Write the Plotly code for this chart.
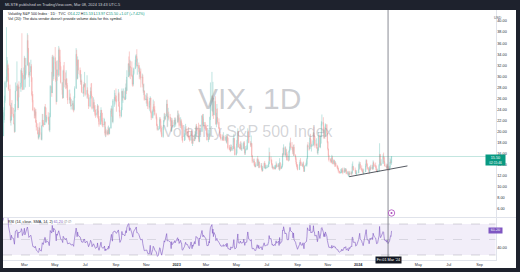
import pandas as pd
import numpy as np
import plotly.graph_objects as go

# ---------------- data ----------------
holidays = ['2022-01-17', '2022-02-21', '2022-04-15', '2022-05-30', '2022-06-20', '2022-07-04',
            '2022-09-05', '2022-11-24', '2022-12-26', '2023-01-02', '2023-01-16', '2023-02-20',
            '2023-04-07', '2023-05-29', '2023-06-19', '2023-07-04', '2023-09-04', '2023-11-23',
            '2023-12-25', '2024-01-01', '2024-01-15', '2024-02-19']
first_date, last_date = '2022-01-03', '2024-03-08'
first_open = 17.2

close = [
 16.6, 16.9, 19.7, 19.6, 18.8, 19.4, 18.4, 17.6, 20.3, 19.2, 22.8, 23.9, 25.6, 28.9, 29.9, 31.2, 32.0, 30.5, 27.7, 24.8,
 22.0, 22.1, 24.4, 23.2, 22.9, 21.4, 20.0, 23.9, 27.4, 28.3, 25.7, 24.3, 28.1, 27.8, 28.8, 31.0, 30.3, 27.6, 30.2,
 33.3, 29.6, 30.5, 32.0, 36.5, 35.1, 32.5, 30.2, 30.8, 31.8, 29.8, 26.7, 25.7, 23.9, 23.5, 22.9, 23.6, 21.7, 20.8, 19.6, 18.9, 19.3, 20.6,
 19.6, 18.6, 21.0, 22.1, 21.6, 21.2, 24.4, 24.3, 21.8, 22.7, 22.2, 21.4, 20.3, 22.7, 28.2, 27.0, 33.5, 31.6, 30.0, 33.4,
 32.3, 29.3, 25.4, 31.2, 30.2, 34.8, 33.0, 32.6, 31.8, 28.9, 27.5, 26.1, 31.0, 29.4, 29.4, 28.5, 29.5, 28.4, 27.5, 25.7, 26.2,
 25.7, 24.7, 24.8, 25.1, 24.0, 24.0, 26.1, 27.8, 34.0, 32.7, 29.6, 33.0, 31.1, 30.2, 29.0, 29.1, 27.2, 27.0, 28.4, 28.2, 28.7,
 26.7, 27.5, 26.7, 26.1, 24.6, 26.2, 27.3, 26.8, 26.4, 24.2, 25.3, 24.5, 23.9, 23.1, 23.0, 23.4, 24.7, 22.5, 22.3, 21.3,
 22.8, 23.9, 22.0, 21.4, 21.2, 21.3, 21.8, 19.7, 20.2, 19.5, 20.0, 19.7, 20.5, 19.6, 20.6, 23.8, 24.1, 22.8, 21.8, 25.6, 26.2, 26.2, 25.9,
 25.6, 25.5, 26.9, 24.6, 23.6, 22.8, 23.9, 27.3, 26.2, 26.3, 26.3, 25.8, 27.2, 28.0, 27.4, 29.9, 32.3, 32.2, 30.2, 31.8, 31.6,
 30.1, 28.6, 28.6, 30.5, 31.4, 32.5, 33.6, 33.6, 31.9, 32.0, 31.4, 30.5, 30.8, 30.0, 29.7, 29.9, 28.5, 27.3, 27.4, 25.8, 25.9,
 25.8, 25.9, 25.3, 24.6, 24.4, 25.5, 26.1, 23.5, 22.5, 23.7, 24.5, 24.1, 23.9, 23.1, 22.4, 21.1, 20.4, 20.5, 22.2, 21.9, 20.6,
 19.8, 19.1, 20.8, 22.0, 22.7, 22.3, 22.8, 25.0, 22.6, 22.8, 22.8, 22.6, 22.4, 22.0, 20.1, 22.0, 20.9, 21.7, 22.1, 21.4, 21.7,
 22.9, 22.0, 22.5, 21.1, 22.0, 21.1, 21.1, 18.8, 18.4, 19.4, 20.3, 20.5, 19.9, 19.8, 19.2, 19.1, 18.7, 18.5, 19.9, 19.4,
 17.9, 18.7, 18.3, 19.4, 18.7, 19.6, 20.7, 20.5, 20.3, 18.9, 18.2, 20.2, 20.0, 22.9, 22.3, 21.1, 21.7, 21.0, 20.7,
 20.6, 19.6, 18.5, 18.6, 19.6, 19.1, 22.6, 24.8, 26.5, 23.7, 26.1, 23.0, 25.5, 24.1, 21.4, 22.3, 22.6, 21.7, 20.6, 20.0, 19.1, 19.0, 18.7,
 18.6, 19.0, 19.1, 18.4, 19.0, 18.1, 19.1, 18.9, 17.1, 17.0, 16.8, 16.5, 17.2, 16.8, 16.9, 18.8, 18.8, 17.0, 15.8,
 16.1, 17.8, 18.3, 20.1, 17.2, 17.0, 17.7, 16.9, 16.9, 17.0, 17.1, 18.0, 16.9, 16.1, 16.8, 16.9, 18.5, 20.0, 19.1, 18.0, 17.5, 17.9,
 15.7, 14.6, 14.7, 14.0, 13.9, 13.7, 13.8, 15.0, 14.6, 13.9, 14.5, 13.5, 13.9, 13.2, 12.9, 13.4, 14.3, 13.7, 13.4, 13.5, 13.6,
 13.6, 14.2, 15.4, 14.8, 14.8, 14.1, 13.5, 13.6, 13.3, 13.5, 13.3, 13.8, 14.0, 13.6, 13.9, 13.9, 13.2, 14.4, 13.3, 13.6,
 13.9, 16.0, 15.9, 17.1, 15.8, 16.0, 16.0, 15.9, 14.8, 14.8, 16.5, 16.8, 17.9, 17.3, 17.1, 17.0, 16.0, 17.2, 15.7, 15.1, 14.5, 13.9, 13.6,
 13.1, 14.0, 14.5, 14.4, 13.8, 13.8, 14.2, 13.5, 12.8, 13.8, 14.0, 14.1, 15.1, 17.5, 17.2, 16.9, 18.9, 18.2, 17.3, 17.5,
 17.6, 19.8, 18.6, 18.5, 17.5, 17.7, 17.0, 16.1, 16.7, 19.3, 17.2, 17.9, 19.2, 21.4, 21.7, 20.4, 19.0, 20.2, 19.2, 21.3, 19.8, 18.1,
 16.9, 15.7, 14.9, 14.9, 14.8, 14.5, 15.3, 14.2, 14.8, 14.2, 14.2, 14.3, 13.8, 13.4, 13.4, 12.9, 12.5, 12.7, 12.7, 13.0, 12.9,
 12.6, 13.1, 12.9, 13.0, 13.1, 12.4, 12.6, 12.1, 12.2, 12.5, 12.3, 12.6, 12.5, 13.7, 13.7, 13.0, 13.0, 12.4, 12.5, 12.5,
 13.2, 14.0, 14.1, 13.4, 13.1, 12.8, 12.7, 12.4, 12.7, 13.8, 14.8, 14.1, 13.3, 13.2, 12.6, 13.1, 13.5, 13.3, 13.6, 13.3, 14.4,
 13.9, 13.9, 13.7, 13.1, 12.8, 12.8, 12.9, 13.9, 15.9, 14.4, 14.0, 14.2, 15.4, 15.3, 14.5, 13.8, 13.7, 13.4, 13.8, 13.4,
 13.1, 13.5, 14.5, 14.5, 14.4, 15.5,
]
high = [
 18.2, 17.8, 20.2, 21.1, 20.6, 23.0, 20.1, 18.6, 20.9, 21.5, 23.5, 24.4, 26.5, 29.2, 38.9, 33.5, 32.9, 32.3, 31.5, 28.5,
 24.6, 22.9, 25.2, 25.7, 24.3, 23.2, 21.6, 25.0, 28.9, 32.7, 28.7, 26.7, 28.5, 29.1, 31.2, 31.5, 37.8, 30.6, 31.6,
 33.7, 33.4, 31.1, 33.3, 37.8, 37.5, 34.1, 31.8, 32.5, 33.0, 32.2, 29.7, 27.3, 26.8, 24.4, 24.3, 24.0, 24.1, 22.1, 21.5, 20.3, 19.9, 20.9,
 21.7, 19.9, 21.2, 23.2, 23.2, 22.1, 24.6, 25.0, 24.4, 23.0, 23.5, 22.6, 22.1, 23.4, 28.4, 30.8, 33.8, 33.9, 32.5, 33.7,
 35.3, 32.6, 29.8, 32.8, 32.9, 35.5, 35.2, 33.6, 34.8, 31.6, 28.8, 27.4, 31.2, 32.0, 32.6, 30.7, 31.1, 29.7, 28.8, 26.7, 27.6,
 26.9, 26.1, 25.9, 25.6, 25.6, 24.8, 26.4, 28.2, 35.1, 34.8, 32.4, 33.6, 32.5, 31.6, 31.1, 30.4, 29.4, 28.1, 28.6, 29.0, 30.8,
 28.6, 30.2, 28.0, 26.9, 25.8, 26.6, 28.0, 28.7, 28.8, 26.2, 26.2, 25.8, 24.7, 24.8, 24.0, 24.1, 25.0, 24.6, 23.8, 22.8,
 23.4, 24.4, 23.9, 22.5, 23.4, 22.5, 22.3, 21.2, 20.9, 20.5, 20.3, 20.9, 21.1, 20.6, 20.8, 24.2, 24.7, 24.2, 22.9, 25.9, 27.5, 27.0, 26.6,
 27.8, 26.5, 27.7, 27.2, 25.4, 23.9, 24.4, 27.8, 27.4, 27.3, 27.8, 27.4, 27.9, 28.7, 29.4, 31.1, 32.3, 33.6, 34.5, 33.0, 32.8,
 32.7, 29.5, 30.3, 31.0, 31.6, 33.0, 33.9, 34.0, 34.9, 33.2, 32.5, 32.0, 31.6, 31.0, 31.4, 30.5, 30.3, 28.6, 28.7, 27.4, 26.7,
 26.5, 27.0, 26.9, 26.3, 25.5, 26.1, 26.4, 24.9, 23.8, 24.0, 25.8, 25.0, 25.5, 24.6, 23.4, 22.7, 21.4, 21.0, 22.6, 22.6, 22.3,
 20.7, 21.1, 20.9, 22.1, 23.3, 23.4, 23.2, 25.7, 25.8, 23.3, 24.3, 23.6, 23.2, 22.6, 21.9, 22.5, 22.4, 22.1, 22.5, 22.6, 22.4,
 23.8, 23.8, 23.3, 23.1, 22.6, 22.3, 21.8, 21.5, 19.2, 19.7, 20.9, 21.4, 21.0, 20.1, 20.3, 20.8, 19.4, 19.1, 20.0, 20.3,
 20.1, 19.1, 19.4, 19.5, 20.1, 20.0, 21.3, 21.4, 20.9, 21.6, 19.7, 20.7, 21.3, 22.9, 23.2, 22.6, 23.2, 21.7, 21.2,
 21.3, 21.0, 19.8, 19.0, 20.3, 19.7, 22.7, 28.9, 30.8, 26.5, 29.0, 26.0, 26.1, 26.4, 23.5, 23.4, 25.0, 24.2, 22.4, 20.8, 19.9, 19.6, 19.5,
 19.5, 19.3, 19.9, 19.3, 19.4, 19.2, 19.6, 19.4, 17.8, 17.6, 17.5, 17.2, 17.7, 17.6, 17.4, 18.9, 19.6, 18.7, 17.3,
 16.8, 18.5, 19.4, 20.6, 19.9, 17.8, 18.1, 18.3, 17.5, 18.0, 17.8, 18.2, 18.3, 17.1, 17.4, 17.5, 18.6, 20.6, 20.2, 19.2, 18.3, 19.3,
 17.9, 15.7, 15.1, 15.1, 14.3, 14.5, 14.2, 15.2, 15.6, 15.1, 14.9, 14.6, 14.3, 14.3, 13.7, 13.8, 14.4, 14.7, 14.3, 14.0, 14.0,
 14.0, 14.6, 17.1, 16.3, 15.5, 15.0, 14.3, 13.9, 13.7, 13.9, 13.6, 14.0, 14.6, 14.3, 14.2, 14.3, 14.1, 15.2, 14.0, 13.8,
 14.2, 16.1, 17.1, 17.7, 17.3, 17.3, 16.7, 16.9, 16.3, 15.6, 16.6, 17.3, 18.2, 18.9, 18.1, 17.2, 17.1, 17.6, 17.7, 15.9, 15.4, 14.4, 14.1,
 14.1, 14.2, 14.9, 15.2, 14.6, 14.2, 14.5, 14.6, 13.6, 13.9, 14.4, 14.8, 15.3, 17.7, 18.1, 17.9, 19.1, 19.6, 18.6, 17.8,
 18.4, 19.9, 20.9, 19.4, 19.2, 18.8, 17.9, 17.2, 17.1, 19.9, 19.5, 18.9, 19.4, 21.9, 23.1, 22.6, 20.6, 20.4, 20.9, 21.5, 21.0, 19.7,
 18.3, 16.8, 15.8, 15.2, 15.1, 14.9, 15.8, 15.6, 15.0, 14.7, 14.5, 14.7, 14.4, 14.0, 13.8, 13.5, 12.9, 13.2, 13.3, 13.4, 13.3,
 13.5, 13.5, 13.4, 13.4, 13.4, 13.3, 12.9, 12.9, 12.6, 12.8, 12.9, 12.8, 12.8, 14.2, 14.6, 13.8, 13.5, 13.1, 12.8, 13.0,
 14.2, 14.6, 14.4, 14.5, 13.9, 13.3, 13.3, 13.1, 13.3, 14.2, 15.0, 14.9, 14.3, 13.6, 13.4, 13.7, 13.8, 14.0, 14.0, 13.9, 14.8,
 14.6, 14.2, 14.4, 13.9, 13.3, 13.1, 13.3, 14.1, 17.9, 15.9, 14.6, 15.0, 15.9, 16.2, 15.5, 14.6, 14.2, 13.9, 14.2, 14.1,
 13.7, 13.8, 15.3, 15.0, 14.8, 15.5,
]
low = [
 16.3, 16.3, 16.8, 19.0, 18.5, 18.5, 18.2, 17.1, 17.6, 18.9, 20.8, 21.6, 22.1, 25.2, 28.0, 29.0, 29.2, 29.0, 27.4, 24.6,
 21.6, 21.1, 22.7, 22.7, 22.5, 21.3, 19.8, 19.9, 23.6, 27.3, 25.5, 23.9, 24.7, 26.2, 27.2, 28.1, 29.7, 27.5, 28.1,
 29.4, 29.4, 28.0, 30.2, 32.0, 34.3, 31.8, 29.8, 28.1, 30.1, 29.0, 26.4, 25.3, 23.7, 22.4, 22.4, 22.5, 21.6, 20.2, 19.5, 18.6, 18.6, 19.0,
 19.4, 18.5, 18.4, 21.0, 21.0, 20.8, 21.3, 22.6, 21.7, 21.5, 21.9, 21.2, 20.1, 19.9, 22.6, 26.3, 27.0, 30.5, 29.2, 29.5,
 31.2, 29.0, 24.9, 25.7, 29.2, 29.9, 31.2, 30.1, 31.1, 28.7, 26.7, 25.9, 26.5, 28.9, 28.0, 27.7, 27.9, 27.8, 26.1, 25.0, 25.1,
 25.0, 24.5, 24.0, 24.0, 23.8, 23.5, 23.8, 26.1, 29.2, 31.9, 29.4, 30.0, 30.4, 29.8, 28.5, 28.5, 27.0, 26.8, 26.3, 27.9, 28.1,
 26.4, 26.0, 26.3, 25.9, 24.1, 24.4, 26.0, 26.4, 26.0, 24.0, 23.6, 24.2, 23.5, 22.8, 22.5, 22.7, 23.3, 22.4, 21.8, 20.9,
 21.3, 22.6, 21.8, 21.1, 20.8, 20.8, 21.2, 19.3, 19.0, 19.1, 19.5, 19.3, 19.6, 19.4, 19.6, 21.8, 23.2, 22.7, 21.7, 21.5, 24.5, 24.9, 25.5,
 25.3, 23.6, 25.5, 24.5, 23.5, 22.4, 22.6, 24.4, 25.6, 25.2, 26.0, 25.7, 26.2, 25.9, 26.8, 28.1, 29.9, 30.8, 29.8, 30.1, 29.5,
 29.9, 28.3, 28.1, 28.3, 30.3, 31.3, 32.1, 32.6, 31.6, 30.3, 30.8, 29.5, 29.8, 29.4, 28.0, 28.7, 28.0, 27.0, 26.6, 25.6, 25.7,
 25.1, 24.6, 25.0, 24.1, 24.0, 23.7, 24.8, 23.3, 22.1, 22.4, 22.9, 23.6, 23.6, 22.9, 22.2, 21.0, 20.2, 20.2, 20.4, 21.6, 20.0,
 19.5, 19.0, 18.9, 20.3, 21.7, 22.0, 22.1, 23.1, 20.8, 20.9, 22.0, 22.2, 21.8, 21.0, 20.0, 20.0, 20.7, 20.7, 21.2, 21.2, 20.9,
 21.8, 21.5, 21.7, 20.7, 20.6, 20.7, 20.4, 18.4, 18.0, 18.3, 18.5, 19.9, 19.5, 19.2, 18.9, 18.9, 18.5, 18.2, 18.3, 19.0,
 17.8, 17.4, 17.8, 18.7, 18.4, 18.7, 19.0, 20.1, 19.5, 18.6, 18.1, 18.1, 19.4, 20.3, 21.3, 20.8, 21.0, 20.5, 20.2,
 20.2, 19.3, 18.4, 18.1, 18.5, 18.6, 19.0, 22.1, 23.8, 22.8, 23.5, 22.3, 23.0, 22.9, 21.2, 20.8, 21.6, 21.3, 20.5, 19.7, 19.0, 18.8, 18.4,
 18.3, 18.5, 18.6, 18.3, 18.5, 18.0, 17.8, 18.3, 16.8, 16.7, 16.6, 16.3, 16.5, 16.6, 16.5, 17.0, 18.1, 16.8, 15.7,
 15.7, 16.0, 17.1, 18.3, 17.1, 16.8, 16.9, 16.7, 16.6, 16.5, 16.8, 16.9, 16.8, 15.8, 15.8, 16.6, 16.7, 18.5, 18.9, 17.9, 17.2, 17.2,
 15.4, 14.3, 14.3, 13.8, 13.6, 13.5, 13.6, 13.8, 14.4, 13.7, 13.4, 13.4, 13.5, 13.0, 12.7, 12.9, 13.5, 13.5, 13.3, 13.2, 13.3,
 13.4, 13.8, 14.1, 14.7, 14.4, 13.9, 13.4, 13.3, 13.1, 13.2, 13.1, 13.3, 13.5, 13.5, 13.6, 13.7, 13.1, 12.9, 13.1, 13.3,
 13.5, 13.9, 15.5, 15.7, 15.6, 15.7, 15.3, 14.9, 14.8, 14.6, 14.9, 16.2, 16.6, 17.0, 16.7, 16.4, 15.9, 15.6, 15.6, 14.9, 14.1, 13.7, 13.3,
 13.0, 13.1, 13.9, 14.2, 13.8, 13.7, 13.6, 13.3, 12.7, 12.8, 13.7, 13.9, 13.7, 15.3, 16.6, 16.6, 17.1, 17.8, 17.2, 16.4,
 17.3, 17.5, 18.5, 17.8, 17.1, 17.4, 16.9, 16.1, 15.8, 16.5, 17.1, 17.0, 17.8, 19.0, 21.1, 20.1, 18.7, 18.8, 18.7, 19.1, 19.5, 17.9,
 16.6, 15.5, 14.6, 14.4, 14.6, 14.3, 14.4, 14.1, 14.1, 13.9, 13.6, 13.9, 13.6, 13.3, 13.1, 12.6, 12.4, 12.4, 12.5, 12.6, 12.6,
 12.3, 12.6, 12.7, 12.6, 12.7, 12.3, 12.2, 12.0, 11.8, 11.8, 12.1, 12.2, 12.1, 12.3, 13.3, 13.0, 12.6, 12.3, 12.2, 12.1,
 12.5, 13.2, 13.5, 13.1, 12.9, 12.7, 12.5, 12.4, 12.3, 13.1, 13.6, 13.9, 13.1, 12.8, 12.3, 12.6, 13.0, 13.0, 13.2, 13.1, 13.1,
 13.6, 13.6, 13.4, 13.0, 12.7, 12.7, 12.6, 12.8, 13.9, 14.3, 13.8, 13.8, 14.3, 15.0, 14.5, 13.7, 13.6, 13.2, 13.4, 13.3,
 12.9, 13.0, 13.4, 14.2, 14.3, 14.0,
]

# drawn trend line (user drawing) endpoints
trend_dates = ['2023-12-14', '2024-04-09']
trend_values = [11.85, 13.8]

last_price = 15.50
rsi_last_label = 61.20
crosshair_date = '2024-03-01'
crosshair_label = "Fri 01 Mar '24"

month_ticks = ['2022-03-01', '2022-05-01', '2022-07-01', '2022-09-01', '2022-11-01', '2023-01-01',
               '2023-03-01', '2023-05-01', '2023-07-01', '2023-09-01', '2023-11-01', '2024-01-01',
               '2024-05-01', '2024-07-01', '2024-09-01']
month_text = ['Mar', 'May', 'Jul', 'Sep', 'Nov', '<b>2023</b>', 'Mar', 'May', 'Jul', 'Sep', 'Nov', '<b>2024</b>',
              'May', 'Jul', 'Sep']
price_ticks = list(range(6, 41, 2))
rsi_ticks = [40]
x_view = ['2022-01-17', '2024-10-03']
price_view = [4.56, 42.0]
rsi_view = [23.55, 77.74]

# ---------------- derived ----------------
dates = pd.bdate_range(first_date, last_date)
dates = dates[~dates.isin(pd.to_datetime(holidays))]
if not (len(dates) == len(close) == len(high) == len(low)):
    raise SystemExit(f"length mismatch {len(dates)} {len(close)} {len(high)} {len(low)}")
opens = [first_open] + close[:-1]
high = [max(h, o, c) for h, o, c in zip(high, opens, close)]
low = [min(l, o, c) for l, o, c in zip(low, opens, close)]

s = pd.Series(close, dtype=float)
d = s.diff()
gain = d.clip(lower=0).ewm(alpha=1 / 14, adjust=False).mean()
loss = (-d.clip(upper=0)).ewm(alpha=1 / 14, adjust=False).mean()
rsi = 100 - 100 / (1 + gain / loss)

W, H = 520, 272
def px(x):
    return x / W
def py(y):
    return 1 - y / H

TXT = '#131722'
FONT = 'Liberation Sans'
UP, DN = '#26a69a', '#ef5350'

fig = go.Figure()
fig.add_trace(go.Candlestick(
    x=dates, open=opens, high=high, low=low, close=close,
    increasing=dict(line=dict(color=UP, width=0.6), fillcolor=UP),
    decreasing=dict(line=dict(color=DN, width=0.6), fillcolor=DN),
    opacity=0.48, xaxis='x', yaxis='y', hoverinfo='skip', showlegend=False))
fig.add_trace(go.Scatter(x=trend_dates, y=trend_values, mode='lines',
                         line=dict(color='#2a2e39', width=0.8), xaxis='x', yaxis='y',
                         hoverinfo='skip', showlegend=False))
fig.add_trace(go.Scatter(x=dates, y=rsi, mode='lines', line=dict(color='#7e57c2', width=0.7),
                         opacity=0.85, xaxis='x2', yaxis='y2', hoverinfo='skip', showlegend=False))

shapes = [
    # white chart panel
    dict(type='rect', xref='paper', yref='paper', x0=px(3), x1=px(516), y0=py(268), y1=py(10),
         fillcolor='white', line=dict(width=0), layer='below'),
    # rsi band
    dict(type='rect', xref='x2 domain', yref='y2', x0=0, x1=1, y0=30, y1=70,
         fillcolor='rgba(126,87,194,0.10)', line=dict(width=0), layer='below'),
    dict(type='line', xref='x2 domain', yref='y2', x0=0, x1=1, y0=70, y1=70,
         line=dict(color='rgba(120,123,134,0.5)', width=0.6, dash='dash')),
    dict(type='line', xref='x2 domain', yref='y2', x0=0, x1=1, y0=50, y1=50,
         line=dict(color='rgba(120,123,134,0.35)', width=0.6, dash='dash')),
    dict(type='line', xref='x2 domain', yref='y2', x0=0, x1=1, y0=30, y1=30,
         line=dict(color='rgba(120,123,134,0.5)', width=0.6, dash='dash')),
    # pane separator
    dict(type='line', xref='paper', yref='paper', x0=px(3), x1=px(516), y0=py(217.5), y1=py(217.5),
         line=dict(color='#e0e3eb', width=1)),
    # last price line
    dict(type='line', xref='x domain', yref='y', x0=0, x1=1, y0=last_price, y1=last_price,
         line=dict(color='rgba(8,153,129,0.35)', width=0.7)),
    # crosshair
    dict(type='line', xref='x', yref='paper', x0=crosshair_date, x1=crosshair_date,
         y0=py(260), y1=py(10), line=dict(color='#6a6d78', width=0.8)),
    # event marker
    dict(type='circle', xref='x', yref='paper', xsizemode='pixel', ysizemode='pixel',
         xanchor=dates[-1], yanchor=py(213), x0=-3.2, x1=3.2, y0=-3.2, y1=3.2,
         fillcolor='white', line=dict(color='#ab47bc', width=0.8)),
    dict(type='circle', xref='x', yref='paper', xsizemode='pixel', ysizemode='pixel',
         xanchor=dates[-1], yanchor=py(213), x0=-1, x1=1, y0=-1, y1=1,
         fillcolor='#ab47bc', line=dict(width=0)),
]

G = '#089981'
legend1 = (f"Volatility S&P 500 Index · 1D · TVC  O<span style='color:{G}'>14.22</span> "
           f"H<span style='color:{G}'>15.53</span> L<span style='color:{G}'>13.97</span> "
           f"C<span style='color:{G}'>15.50</span> <span style='color:{G}'>+1.07 (+7.42%)</span>")
annotations = [
    dict(text='MLSTE published on TradingView.com, Mar 08, 2024 13:43 UTC-5', x=px(3), y=py(4.8),
         xref='paper', yref='paper', xanchor='left', yanchor='middle', showarrow=False,
         font=dict(family=FONT, size=3.9, color='#d1d4dc')),
    dict(text=legend1, x=px(6), y=py(14), xref='paper', yref='paper', xanchor='left', yanchor='middle',
         showarrow=False, font=dict(family=FONT, size=3.7, color=TXT)),
    dict(text="Vol (20): The data vendor doesn't provide volume data for this symbol.", x=px(6), y=py(19.5),
         xref='paper', yref='paper', xanchor='left', yanchor='middle', showarrow=False,
         font=dict(family=FONT, size=3.7, color=TXT)),
    dict(text='VIX, 1D', x=px(249), y=py(98), xref='paper', yref='paper', showarrow=False,
         font=dict(family=FONT, size=30, color='rgba(120,123,134,0.38)')),
    dict(text='Volatility S&P 500 Index', x=px(248), y=py(131), xref='paper', yref='paper', showarrow=False,
         font=dict(family=FONT, size=16, color='rgba(120,123,134,0.32)')),
    dict(text="RSI (14, close, SMA, 14, 2) <span style='color:#7e57c2'>61.20</span> "
              "<span style='color:#787b86'>∅ ∅</span>",
         x=px(6), y=py(222), xref='paper', yref='paper', xanchor='left', yanchor='middle', showarrow=False,
         font=dict(family=FONT, size=3.7, color=TXT)),
    dict(text='USD', x=px(504), y=py(13.5), xref='paper', yref='paper', showarrow=False,
         font=dict(family=FONT, size=3.5, color='#50535e')),
    dict(text=f"{last_price:.2f}<br><span style='font-size:3.2px'>02:15:46</span>", x=px(505.5), y=last_price,
         xref='paper', yref='y', yanchor='top', yshift=2.6, showarrow=False, bgcolor=G, borderpad=0.6,
         width=18, align='center', font=dict(family=FONT, size=3.8, color='white')),
    dict(text=f"{rsi_last_label:.2f}", x=px(503), y=rsi_last_label, xref='paper', yref='y2',
         showarrow=False, bgcolor='#7e57c2', borderpad=0.4, width=12,
         font=dict(family=FONT, size=3.8, color='white')),
    dict(text=crosshair_label, x=crosshair_date, y=py(264), xref='x', yref='paper', showarrow=False,
         bgcolor=TXT, borderpad=0.8, font=dict(family=FONT, size=3.8, color='white')),
]

axis_common = dict(showgrid=False, zeroline=False, fixedrange=True)
fig.update_layout(
    width=W, height=H, margin=dict(l=0, r=0, t=0, b=0),
    paper_bgcolor='#1e222d', plot_bgcolor='white',
    showlegend=False, hovermode=False, dragmode=False,
    font=dict(family=FONT, color=TXT),
    xaxis=dict(domain=[px(3), px(495.5)], range=x_view, anchor='y', showticklabels=False,
               rangeslider=dict(visible=False), showline=False, **axis_common),
    yaxis=dict(domain=[py(217), py(10)], range=price_view, side='right', anchor='x',
               tickvals=price_ticks, tickformat='.2f', ticks='', showline=True, linecolor='#e0e3eb',
               linewidth=1, tickfont=dict(size=3.8, color='#2a2e39'), **axis_common),
    xaxis2=dict(domain=[px(3), px(495.5)], range=x_view, anchor='y2', matches='x',
                tickvals=month_ticks, ticktext=month_text, ticks='', showline=True, linecolor='#e0e3eb',
                linewidth=1, tickfont=dict(size=3.8, color='#2a2e39'), **axis_common),
    yaxis2=dict(domain=[py(260), py(218)], range=rsi_view, side='right', anchor='x2',
                tickvals=rsi_ticks, tickformat='.2f', ticks='', showline=True, linecolor='#e0e3eb',
                linewidth=1, tickfont=dict(size=3.8, color='#2a2e39'), **axis_common),
    shapes=shapes, annotations=annotations,
)

fig.write_html('out.html', config={'displayModeBar': False, 'staticPlot': True})
